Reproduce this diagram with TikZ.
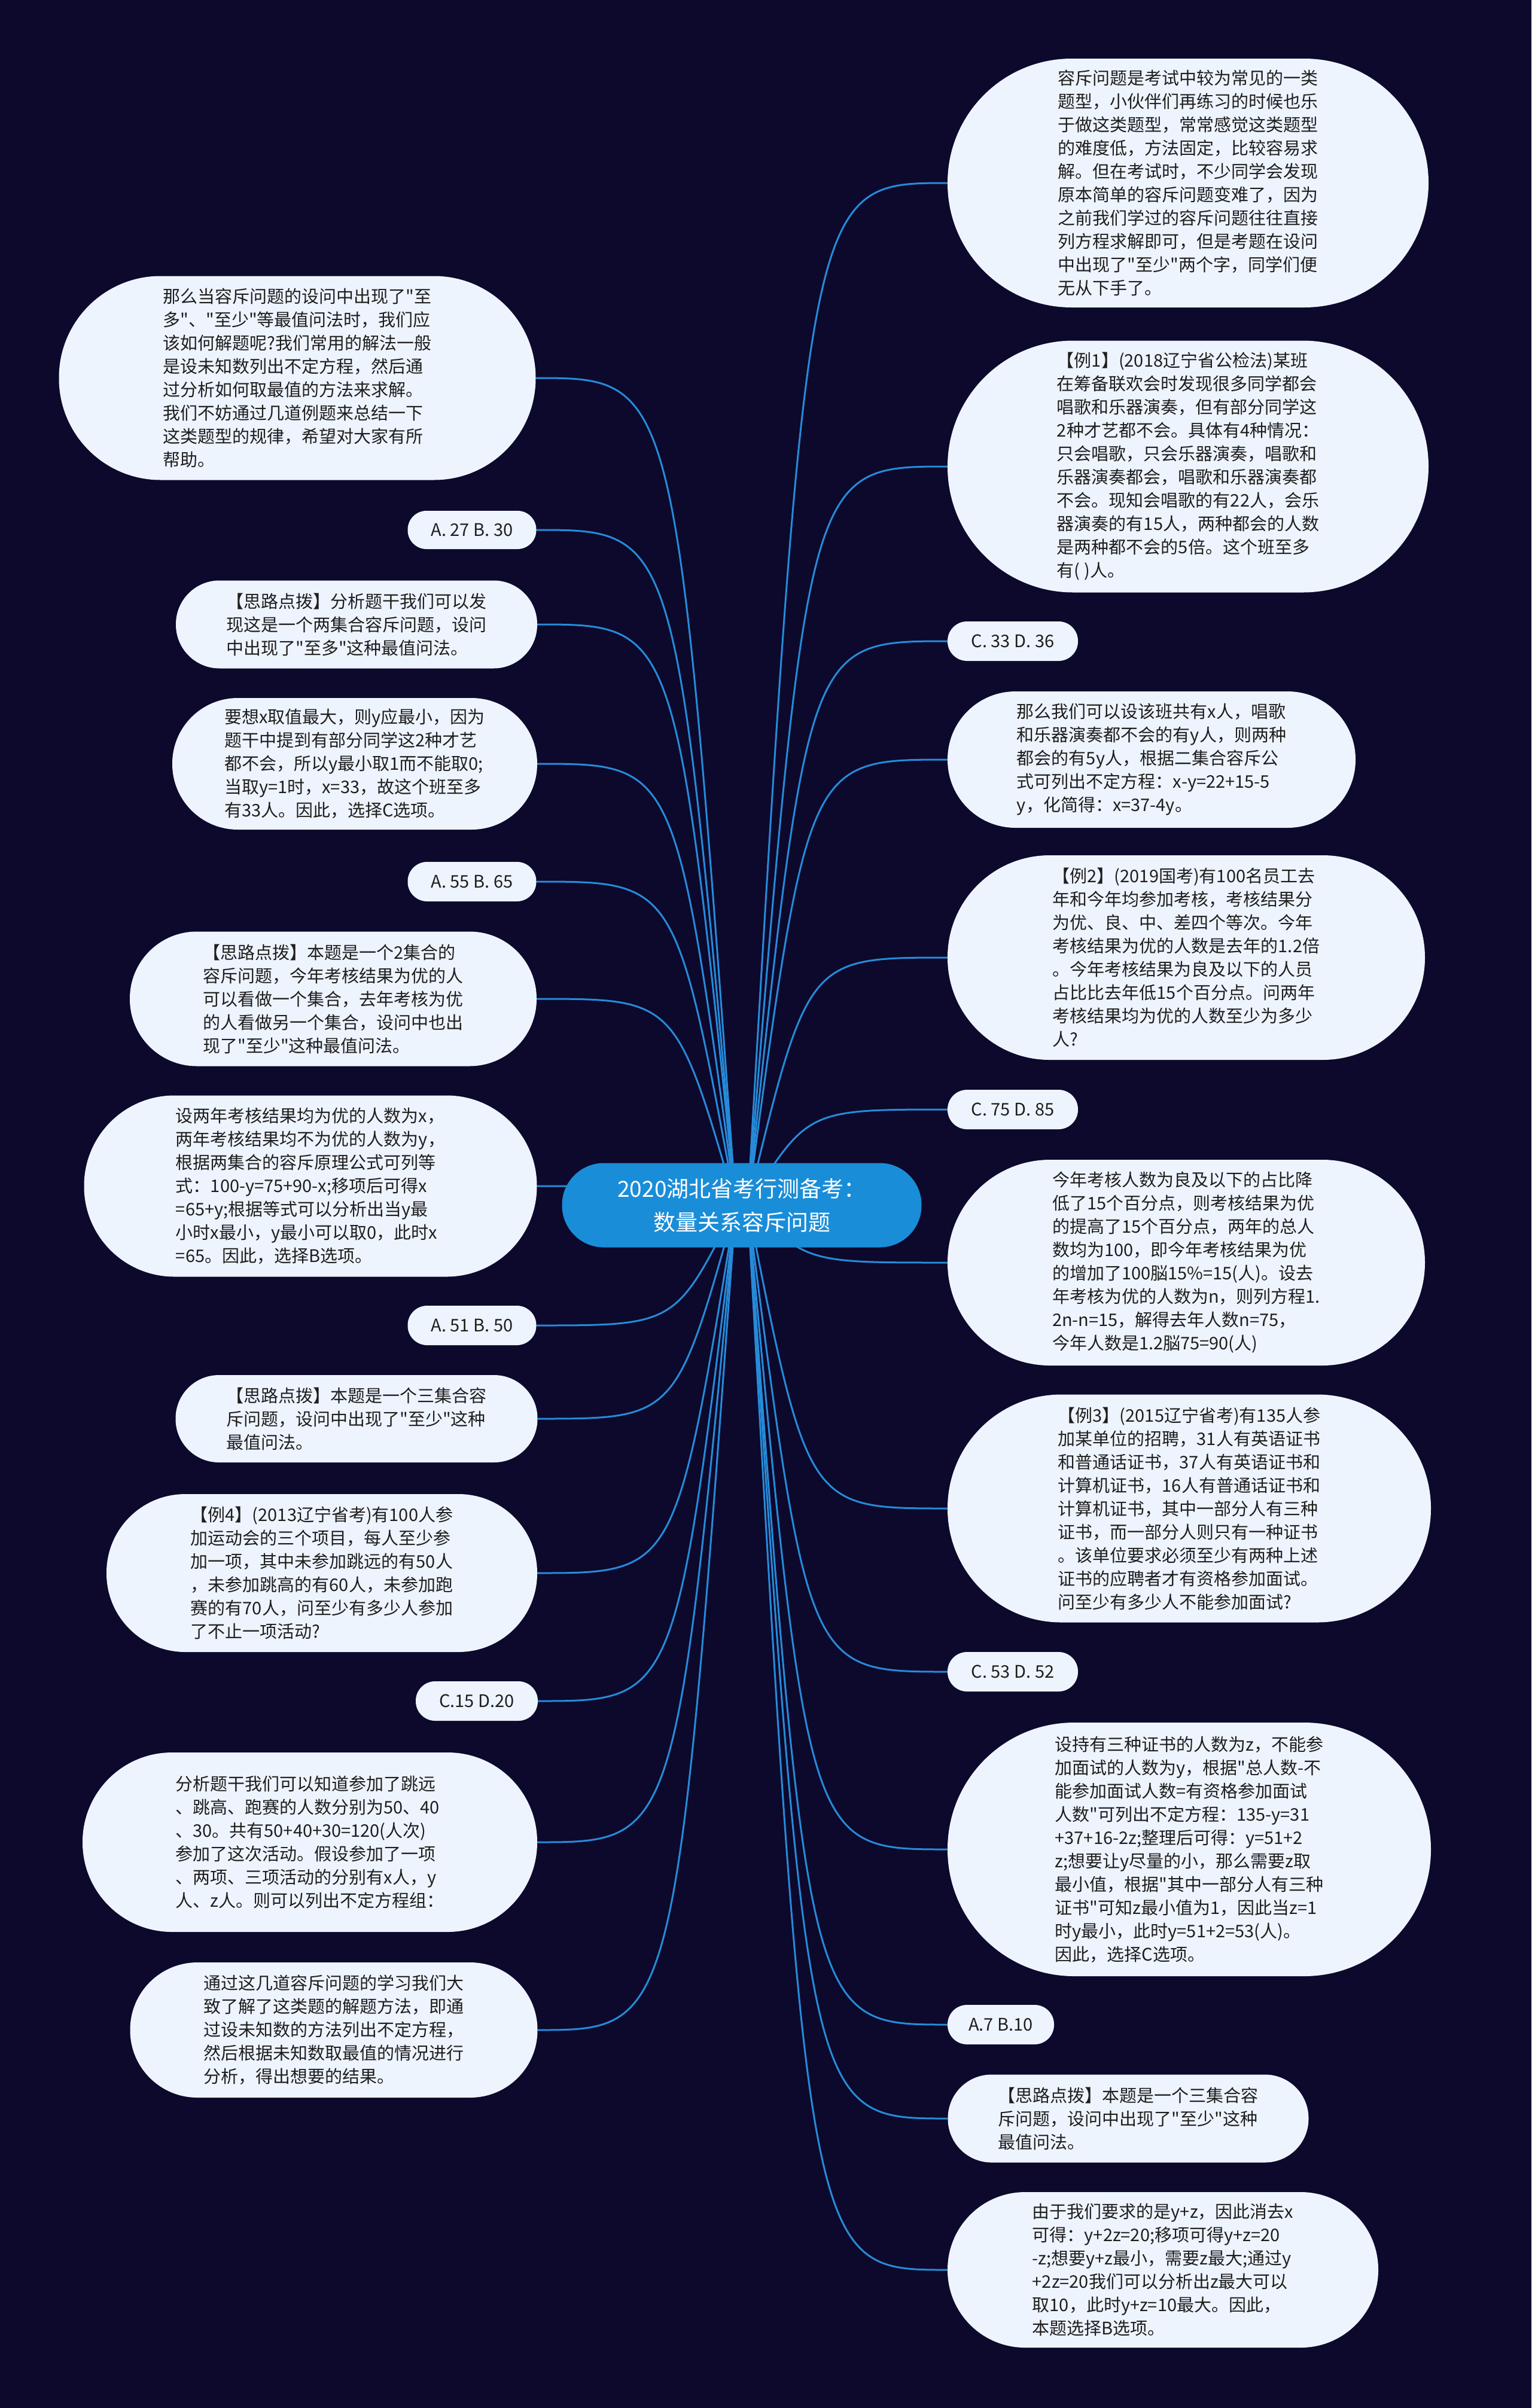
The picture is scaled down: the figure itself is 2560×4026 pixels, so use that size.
\documentclass[tikz,border=0pt]{standalone}
\usepackage{fontspec}
\setmainfont{Noto Sans CJK SC}[Ligatures=TeXOff]
\pgfdeclarelayer{back}
\pgfsetlayers{back,main}
\definecolor{bgcol}{RGB}{12,9,45}
\definecolor{leaffill}{RGB}{238,244,254}
\definecolor{txtcol}{RGB}{30,30,30}
\definecolor{conncol}{RGB}{38,139,216}
\definecolor{rootfill}{RGB}{26,141,216}
\begin{document}
\begin{tikzpicture}[x=1pt,y=-1pt,
  leaf/.style={shape=rectangle, fill=leaffill, text=txtcol, align=left, inner sep=0pt,
    font=\fontsize{29}{39}\selectfont},
  sz/.style 2 args={minimum width=#1pt, minimum height=#2pt, rounded corners={(#2*0.5-0.5)*1pt}},
  root/.style={shape=rectangle, fill=rootfill, text=white, align=center, inner sep=0pt,
    font=\fontsize{37}{56}\selectfont},
  conn/.style={draw=conncol, line width=3pt}]
\useasboundingbox (0,0) rectangle (2560,4026);

% centre
\node[root, sz={601}{141}] (c) at (1240,2015) {2020湖北省考行测备考：\\数量关系容斥问题};

% right column
\node[leaf, sz={804}{416}] (r1) at (1986,306) {容斥问题是考试中较为常见的一类\\题型，小伙伴们再练习的时候也乐\\于做这类题型，常常感觉这类题型\\的难度低，方法固定，比较容易求\\解。但在考试时，不少同学会发现\\原本简单的容斥问题变难了，因为\\之前我们学过的容斥问题往往直接\\列方程求解即可，但是考题在设问\\中出现了"至少"两个字，同学们便\\无从下手了。};
\node[leaf, sz={804}{421}] (r2) at (1986,780) {【例1】(2018辽宁省公检法)某班\\在筹备联欢会时发现很多同学都会\\唱歌和乐器演奏，但有部分同学这\\2种才艺都不会。具体有4种情况：\\只会唱歌，只会乐器演奏，唱歌和\\乐器演奏都会，唱歌和乐器演奏都\\不会。现知会唱歌的有22人，会乐\\器演奏的有15人，两种都会的人数\\是两种都不会的5倍。这个班至多\\有( )人。};
\node[leaf, sz={218}{66}] (r3) at (1693,1072) {C. 33 D. 36};
\node[leaf, sz={682}{228}] (r4) at (1925,1270) {那么我们可以设该班共有x人，唱歌\\和乐器演奏都不会的有y人，则两种\\都会的有5y人，根据二集合容斥公\\式可列出不定方程：x-y=22+15-5\\y，化简得：x=37-4y。};
\node[leaf, sz={798}{342}] (r5) at (1983,1601) {【例2】(2019国考)有100名员工去\\年和今年均参加考核，考核结果分\\为优、良、中、差四个等次。今年\\考核结果为优的人数是去年的1.2倍\\。今年考核结果为良及以下的人员\\占比比去年低15个百分点。问两年\\考核结果均为优的人数至少为多少\\人?};
\node[leaf, sz={218}{66}] (r6) at (1693,1855) {C. 75 D. 85};
\node[leaf, sz={798}{344}] (r7) at (1983,2111) {今年考核人数为良及以下的占比降\\低了15个百分点，则考核结果为优\\的提高了15个百分点，两年的总人\\数均为100，即今年考核结果为优\\的增加了100脳15\%=15(人)。设去\\年考核为优的人数为n，则列方程1.\\2n-n=15，解得去年人数n=75，\\今年人数是1.2脳75=90(人)};
\node[leaf, sz={808}{381}] (r8) at (1988,2522) {【例3】(2015辽宁省考)有135人参\\加某单位的招聘，31人有英语证书\\和普通话证书，37人有英语证书和\\计算机证书，16人有普通话证书和\\计算机证书，其中一部分人有三种\\证书，而一部分人则只有一种证书\\。该单位要求必须至少有两种上述\\证书的应聘者才有资格参加面试。\\问至少有多少人不能参加面试?};
\node[leaf, sz={218}{66}] (r9) at (1693,2795) {C. 53 D. 52};
\node[leaf, sz={808}{424}] (r10) at (1988,3092) {设持有三种证书的人数为z，不能参\\加面试的人数为y，根据"总人数-不\\能参加面试人数=有资格参加面试\\人数"可列出不定方程：135-y=31\\+37+16-2z;整理后可得：y=51+2\\z;想要让y尽量的小，那么需要z取\\最小值，根据"其中一部分人有三种\\证书"可知z最小值为1，因此当z=1\\时y最小，此时y=51+2=53(人)。\\因此，选择C选项。};
\node[leaf, sz={178}{66}] (r11) at (1673,3385) {A.7 B.10};
\node[leaf, sz={603}{147}] (r12) at (1886,3542) {【思路点拨】本题是一个三集合容\\斥问题，设问中出现了"至少"这种\\最值问法。};
\node[leaf, sz={720}{260}] (r13) at (1944,3795) {由于我们要求的是y+z，因此消去x\\可得：y+2z=20;移项可得y+z=20\\-z;想要y+z最小，需要z最大;通过y\\+2z=20我们可以分析出z最大可以\\取10，此时y+z=10最大。因此，\\本题选择B选项。};

% left column
\node[leaf, sz={797}{341}] (l1) at (497,632) {那么当容斥问题的设问中出现了"至\\多"、"至少"等最值问法时，我们应\\该如何解题呢?我们常用的解法一般\\是设未知数列出不定方程，然后通\\过分析如何取最值的方法来求解。\\我们不妨通过几道例题来总结一下\\这类题型的规律，希望对大家有所\\帮助。};
\node[leaf, sz={215}{64}] (l2) at (789,886) {A. 27 B. 30};
\node[leaf, sz={604}{147}] (l3) at (596,1044) {【思路点拨】分析题干我们可以发\\现这是一个两集合容斥问题，设问\\中出现了"至多"这种最值问法。};
\node[leaf, sz={610}{220}] (l4) at (593,1277) {要想x取值最大，则y应最小，因为\\题干中提到有部分同学这2种才艺\\都不会，所以y最小取1而不能取0;\\当取y=1时，x=33，故这个班至多\\有33人。因此，选择C选项。};
\node[leaf, sz={215}{66}] (l5) at (789,1474) {A. 55 B. 65};
\node[leaf, sz={680}{225}] (l6) at (557,1670) {【思路点拨】本题是一个2集合的\\容斥问题，今年考核结果为优的人\\可以看做一个集合，去年考核为优\\的人看做另一个集合，设问中也出\\现了"至少"这种最值问法。};
\node[leaf, sz={757}{303}] (l7) at (519,1983) {设两年考核结果均为优的人数为x，\\两年考核结果均不为优的人数为y，\\根据两集合的容斥原理公式可列等\\式：100-y=75+90-x;移项后可得x\\=65+y;根据等式可以分析出当y最\\小时x最小，y最小可以取0，此时x\\=65。因此，选择B选项。};
\node[leaf, sz={215}{66}] (l8) at (789,2216) {A. 51 B. 50};
\node[leaf, sz={605}{146}] (l9) at (596,2372) {【思路点拨】本题是一个三集合容\\斥问题，设问中出现了"至少"这种\\最值问法。};
\node[leaf, sz={720}{264}] (l10) at (538,2630) {【例4】(2013辽宁省考)有100人参\\加运动会的三个项目，每人至少参\\加一项，其中未参加跳远的有50人\\，未参加跳高的有60人，未参加跑\\赛的有70人，问至少有多少人参加\\了不止一项活动?};
\node[leaf, sz={204}{66}] (l11) at (797,2844) {C.15 D.20};
\node[leaf, sz={760}{300}] (l12) at (518,3080) {分析题干我们可以知道参加了跳远\\、跳高、跑赛的人数分别为50、40\\、30。共有50+40+30=120(人次)\\参加了这次活动。假设参加了一项\\、两项、三项活动的分别有x人，y\\人、z人。则可以列出不定方程组：};
\node[leaf, sz={681}{226}] (l13) at (558,3394) {通过这几道容斥问题的学习我们大\\致了解了这类题的解题方法，即通\\过设未知数的方法列出不定方程，\\然后根据未知数取最值的情况进行\\分析，得出想要的结果。};

\coordinate (kR) at (1350,0);
\coordinate (kL) at (1130,0);

\begin{pgfonlayer}{back}
\fill[bgcol] (0,0) rectangle (2560,4026);
\foreach \n in {r1,r2,r3,r4,r5,r6,r7,r8,r9,r10,r11,r12,r13}
  \draw[conn] ([xshift=10pt]c.center) .. controls (kR |- \n.west) .. (\n.west);
\foreach \n in {l1,l2,l3,l4,l5,l6,l7,l8,l9,l10,l11,l12,l13}
  \draw[conn] ([xshift=-10pt]c.center) .. controls (kL |- \n.east) .. (\n.east);
\end{pgfonlayer}
\end{tikzpicture}
\end{document}
